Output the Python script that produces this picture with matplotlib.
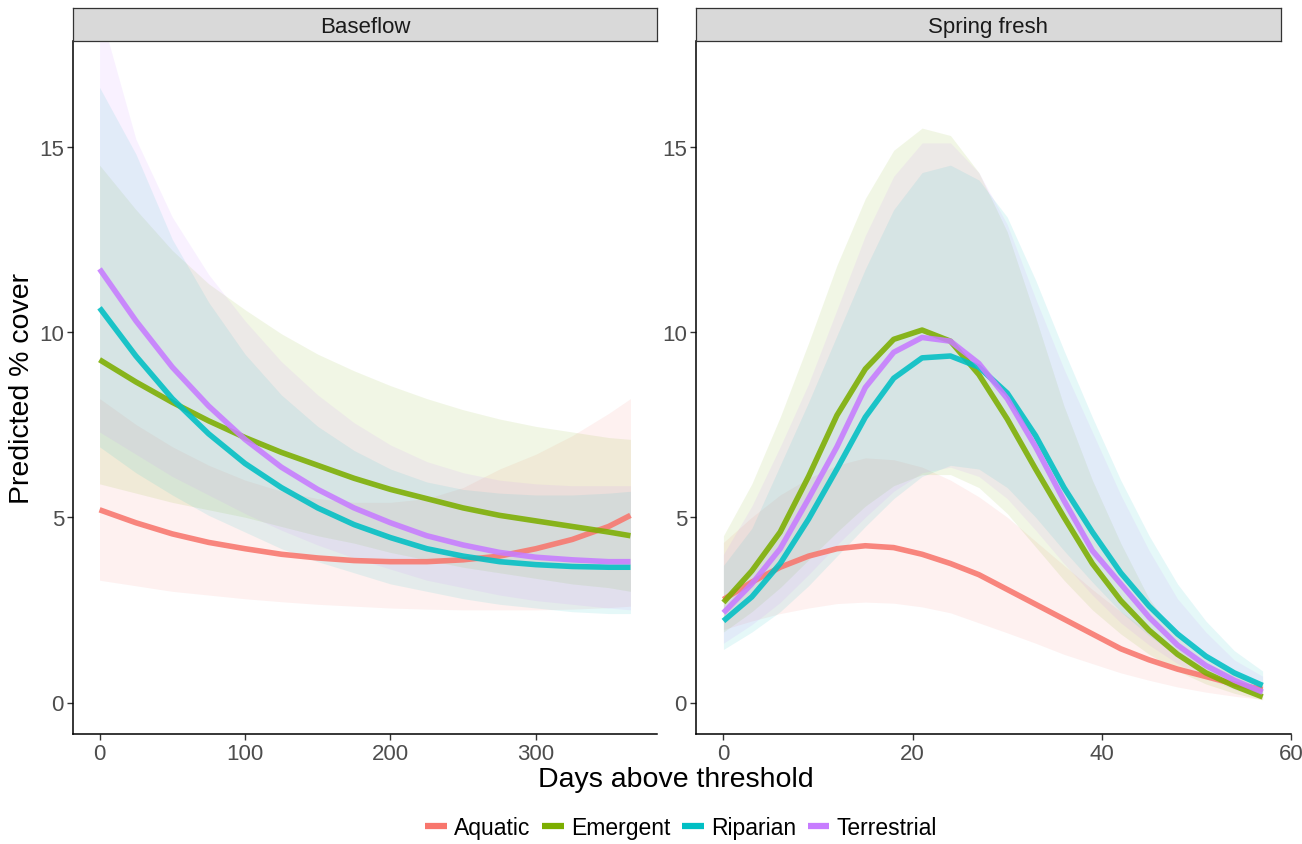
import numpy as np
import matplotlib
matplotlib.use("Agg")
import matplotlib.pyplot as plt
from matplotlib.lines import Line2D

plt.rcParams['font.family'] = ['Liberation Sans', 'DejaVu Sans']

groups = ["Aquatic", "Emergent", "Riparian", "Terrestrial"]
colors = ["#F8766D", "#7CAE00", "#00BFC4", "#C77CFF"]
facets = ["Baseflow", "Spring fresh"]

# ---------------- Baseflow panel ----------------
base_days = [0, 25, 50, 75, 100, 125, 150, 175, 200, 225, 250, 275, 300, 325, 350, 365]

base_fit = {
    "Aquatic":     [5.2, 4.85, 4.55, 4.32, 4.15, 4.0, 3.9, 3.83, 3.8, 3.8, 3.85, 3.95, 4.15, 4.4, 4.75, 5.05],
    "Emergent":    [9.25, 8.65, 8.1, 7.6, 7.15, 6.75, 6.4, 6.05, 5.75, 5.5, 5.25, 5.05, 4.9, 4.75, 4.6, 4.5],
    "Riparian":    [10.65, 9.35, 8.2, 7.25, 6.45, 5.8, 5.25, 4.8, 4.45, 4.15, 3.95, 3.8, 3.72, 3.67, 3.65, 3.65],
    "Terrestrial": [11.7, 10.3, 9.05, 8.0, 7.1, 6.35, 5.75, 5.25, 4.85, 4.5, 4.25, 4.05, 3.92, 3.85, 3.8, 3.8],
}
base_lower = {
    "Aquatic":     [3.3, 3.15, 3.0, 2.9, 2.8, 2.72, 2.65, 2.6, 2.55, 2.52, 2.5, 2.5, 2.5, 2.52, 2.56, 2.6],
    "Emergent":    [5.9, 5.65, 5.4, 5.2, 5.0, 4.75, 4.5, 4.3, 4.05, 3.85, 3.65, 3.5, 3.35, 3.2, 3.1, 3.0],
    "Riparian":    [6.9, 6.2, 5.6, 5.05, 4.6, 4.15, 3.8, 3.5, 3.2, 3.0, 2.8, 2.65, 2.55, 2.45, 2.4, 2.4],
    "Terrestrial": [7.3, 6.7, 6.1, 5.6, 5.1, 4.65, 4.25, 3.9, 3.6, 3.3, 3.1, 2.9, 2.75, 2.65, 2.55, 2.5],
}
base_upper = {
    "Aquatic":     [8.2, 7.5, 6.9, 6.4, 6.0, 5.7, 5.5, 5.4, 5.4, 5.5, 5.8, 6.3, 6.7, 7.2, 7.8, 8.2],
    "Emergent":    [14.5, 13.3, 12.2, 11.3, 10.6, 9.95, 9.4, 8.95, 8.55, 8.2, 7.9, 7.65, 7.45, 7.3, 7.15, 7.1],
    "Riparian":    [16.6, 14.8, 12.5, 10.8, 9.4, 8.3, 7.45, 6.8, 6.3, 5.95, 5.75, 5.65, 5.6, 5.6, 5.65, 5.7],
    "Terrestrial": [18.7, 15.2, 13.1, 11.55, 10.3, 9.2, 8.3, 7.55, 6.95, 6.5, 6.2, 6.0, 5.9, 5.85, 5.85, 5.85],
}

# ---------------- Spring fresh panel ----------------
fresh_days = [0, 3, 6, 9, 12, 15, 18, 21, 24, 27, 30, 33, 36, 39, 42, 45, 48, 51, 54, 57]

fresh_fit = {
    "Aquatic":     [2.78, 3.25, 3.65, 3.95, 4.15, 4.23, 4.18, 4.0, 3.75, 3.45, 3.05, 2.65, 2.25, 1.85, 1.45, 1.15, 0.9, 0.7, 0.5, 0.35],
    "Emergent":    [2.7, 3.55, 4.6, 6.1, 7.75, 9.0, 9.8, 10.05, 9.75, 8.85, 7.65, 6.3, 5.0, 3.75, 2.75, 1.95, 1.3, 0.8, 0.45, 0.15],
    "Riparian":    [2.2, 2.85, 3.75, 4.95, 6.3, 7.7, 8.75, 9.3, 9.35, 9.05, 8.35, 7.2, 5.8, 4.6, 3.5, 2.6, 1.85, 1.25, 0.8, 0.46],
    "Terrestrial": [2.42, 3.2, 4.15, 5.5, 6.9, 8.5, 9.45, 9.85, 9.75, 9.15, 8.2, 6.9, 5.45, 4.1, 3.2, 2.3, 1.55, 1.0, 0.6, 0.28],
}
fresh_lower = {
    "Aquatic":     [1.97, 2.2, 2.4, 2.55, 2.67, 2.71, 2.68, 2.58, 2.42, 2.15, 1.88, 1.6, 1.3, 1.05, 0.8, 0.6, 0.42, 0.28, 0.17, 0.08],
    "Emergent":    [1.9, 2.45, 3.1, 3.85, 4.6, 5.3, 5.85, 6.15, 6.15, 5.8, 5.1, 4.2, 3.3, 2.5, 1.85, 1.3, 0.85, 0.5, 0.25, 0.07],
    "Riparian":    [1.43, 1.9, 2.45, 3.15, 3.95, 4.75, 5.5, 6.1, 6.4, 6.3, 5.8, 5.0, 4.1, 3.25, 2.45, 1.8, 1.25, 0.8, 0.45, 0.2],
    "Terrestrial": [1.6, 2.1, 2.7, 3.45, 4.25, 5.0, 5.7, 6.2, 6.35, 6.1, 5.5, 4.65, 3.75, 2.9, 2.15, 1.55, 1.05, 0.65, 0.35, 0.12],
}
fresh_upper = {
    "Aquatic":     [4.32, 5.0, 5.6, 6.05, 6.4, 6.6, 6.55, 6.35, 6.0, 5.55, 5.0, 4.35, 3.7, 3.05, 2.45, 1.9, 1.45, 1.05, 0.75, 0.5],
    "Emergent":    [4.5, 5.9, 7.7, 9.7, 11.8, 13.6, 14.9, 15.5, 15.3, 14.3, 12.7, 10.4, 8.0, 6.0, 4.3, 2.8, 1.8, 1.2, 0.8, 0.55],
    "Riparian":    [3.7, 4.7, 6.4, 8.1, 9.9, 11.7, 13.3, 14.3, 14.5, 14.1, 13.1, 11.4, 9.5, 7.7, 6.0, 4.5, 3.2, 2.2, 1.4, 0.85],
    "Terrestrial": [4.0, 5.3, 6.9, 8.6, 10.6, 12.6, 14.2, 15.1, 15.1, 14.3, 12.9, 10.9, 9.0, 7.3, 5.6, 4.1, 2.8, 1.9, 1.15, 0.71],
}

base_xticks = [0, 100, 200, 300]
fresh_xticks = [0, 20, 40, 60]
yticks = [0, 5, 10, 15]

W, H = 1302, 845
fig = plt.figure(figsize=(W / 100, H / 100), dpi=100)


def px_axes(x0, y0, x1, y1):
    return fig.add_axes([x0 / W, 1 - y1 / H, (x1 - x0) / W, (y1 - y0) / H])


panel_top, panel_bot = 42, 735
ax_l = px_axes(73, panel_top, 657, panel_bot)
ax_r = px_axes(696, panel_top, 1291, panel_bot)

panels = [
    (ax_l, base_days, base_fit, base_lower, base_upper, base_xticks, (-18.25, 383.25), "Baseflow", (73, 657)),
    (ax_r, fresh_days, fresh_fit, fresh_lower, fresh_upper, fresh_xticks, (-2.9, 60.0), "Spring fresh", (696, 1281)),
]

for ax, xs, fit, lo, up, xt, xlim, title, (sx0, sx1) in panels:
    for g, c in zip(groups, colors):
        ax.fill_between(xs, lo[g], up[g], color=c, alpha=0.1, linewidth=0)
    for g, c in zip(groups, colors):
        ax.plot(xs, fit[g], color=c, lw=4.0, alpha=0.88, solid_capstyle='butt',
                solid_joinstyle='round')
    ax.set_xlim(*xlim)
    ax.set_ylim(-0.85, 17.85)
    ax.set_xticks(xt)
    ax.set_yticks(yticks)
    for s in ["top", "right"]:
        ax.spines[s].set_visible(False)
    for s in ["left", "bottom"]:
        ax.spines[s].set_linewidth(1.1)
        ax.spines[s].set_color("black")
    ax.tick_params(axis='both', labelsize=16, colors="#333333", labelcolor="#4D4D4D",
                   length=4, width=1.0, pad=2.5)
    # strip
    sax = px_axes(sx0, 9, sx1, panel_top)
    sax.set_facecolor("#D9D9D9")
    sax.set_xticks([])
    sax.set_yticks([])
    for s in sax.spines.values():
        s.set_edgecolor("#333333")
        s.set_linewidth(0.9)
    sax.text(0.5, 0.45, title, transform=sax.transAxes, ha="center", va="center",
             fontsize=16, color="#1A1A1A")

fig.text(22 / W, 1 - ((panel_top + panel_bot) / 2) / H, "Predicted % cover", rotation=90,
         ha="center", va="center", fontsize=20.5, color="black")
fig.text(676 / W, 1 - 780 / H, "Days above threshold", ha="center", va="center",
         fontsize=20.5, color="black")

handles = [Line2D([0], [0], color=c, lw=4.5, solid_capstyle='butt') for c in colors]
fig.legend(handles, groups, loc="center", bbox_to_anchor=(681 / W, 1 - 829 / H), ncol=4,
           frameon=False, fontsize=16.5, handlelength=0.95, handletextpad=0.32,
           columnspacing=0.5)

fig.savefig("out.png", dpi=100)
